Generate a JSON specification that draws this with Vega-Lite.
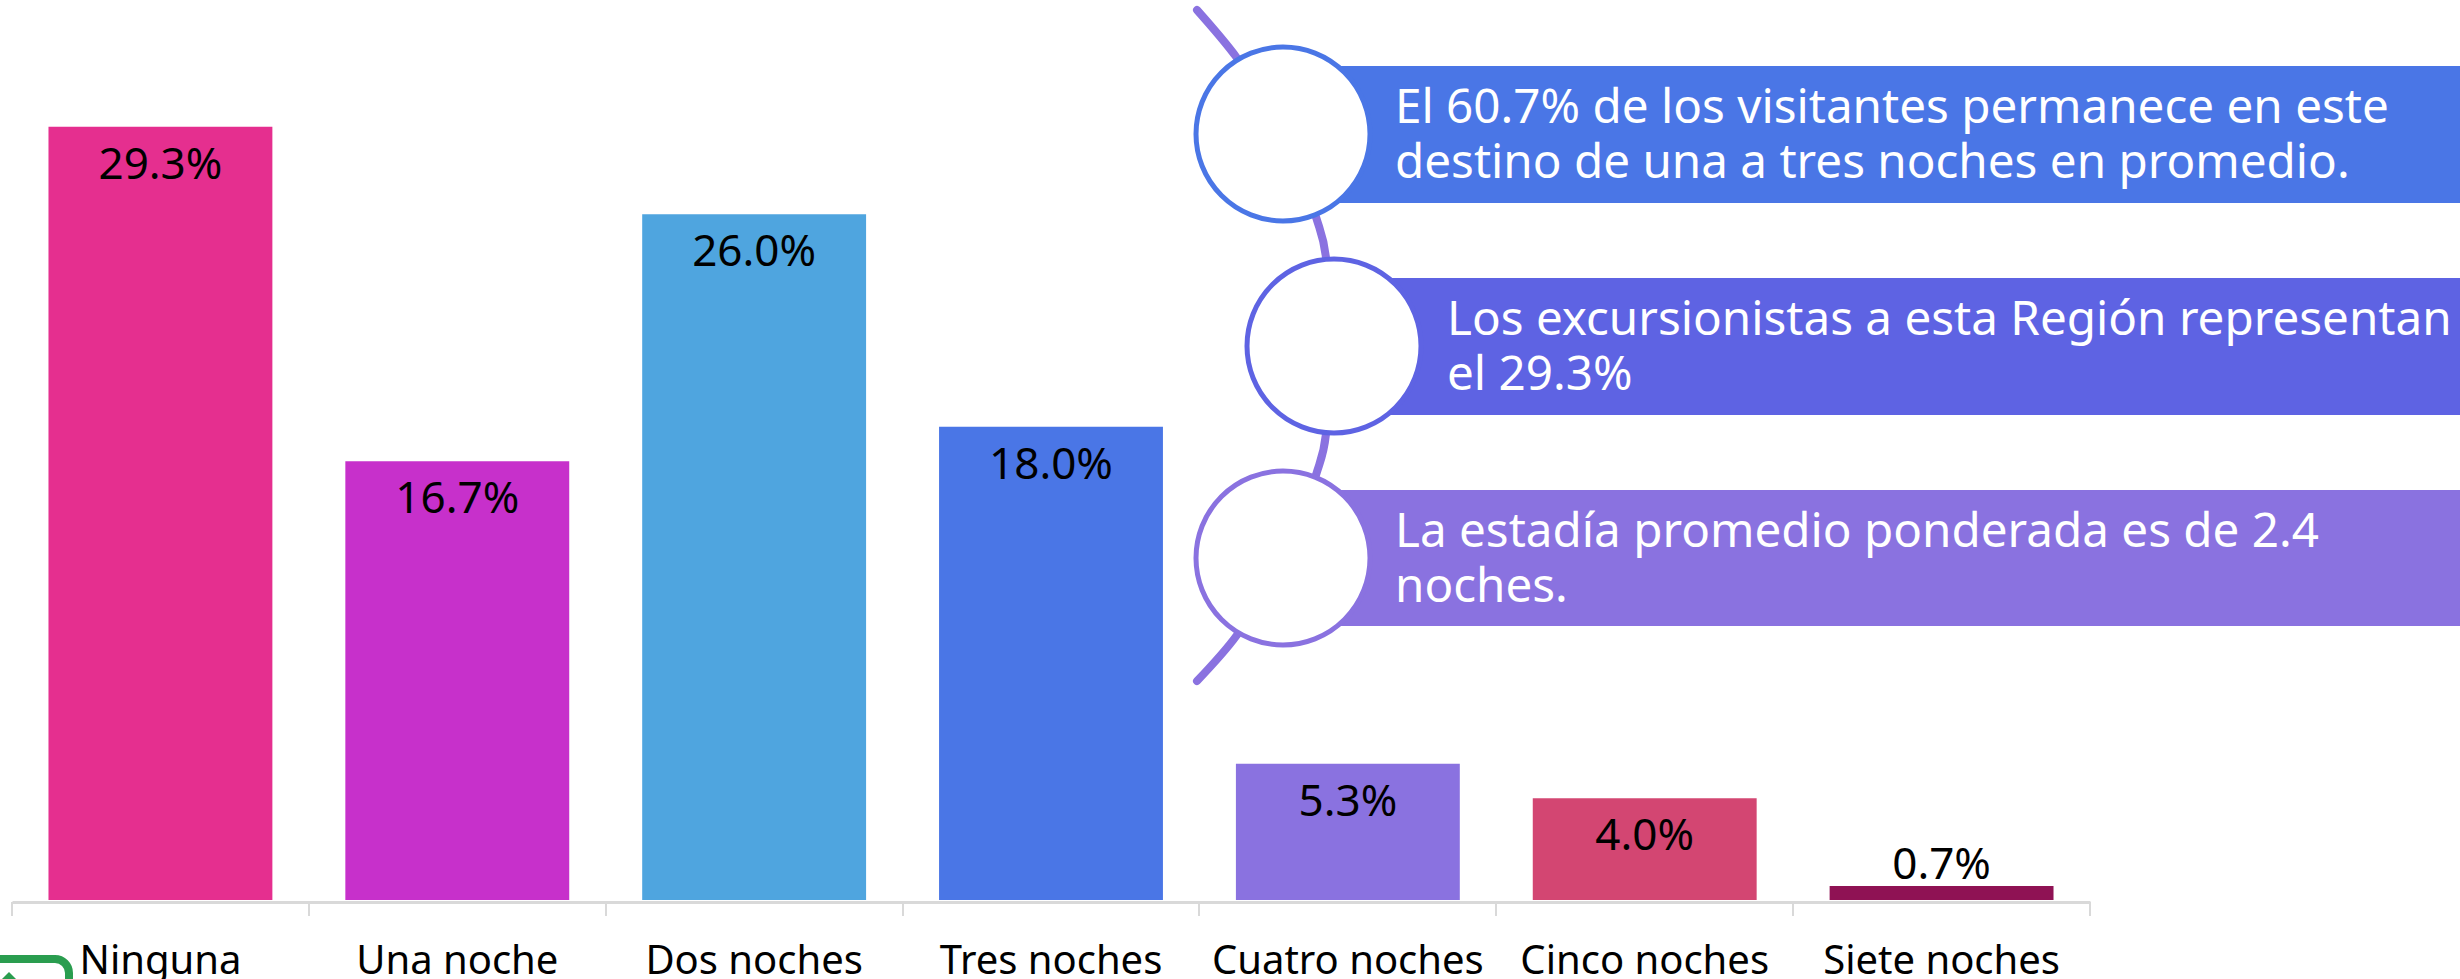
{
"$schema":"https://vega.github.io/schema/vega-lite/v6.json",
"width":2078,"height":900,
"autosize":{"type":"none"},
"padding":{"left":12,"top":0,"right":370,"bottom":79},
"background":"white",
"config":{"view":{"stroke":null},"text":{"font":"Noto Sans"}},
"datasets":{
"bars":[
{"noches":"Ninguna","pct":29.3,"label":"29.3%","color":"#E52F8F"},
{"noches":"Una noche","pct":16.7,"label":"16.7%","color":"#C730CB"},
{"noches":"Dos noches","pct":26.0,"label":"26.0%","color":"#4FA5DF"},
{"noches":"Tres noches","pct":18.0,"label":"18.0%","color":"#4A76E6"},
{"noches":"Cuatro noches","pct":5.3,"label":"5.3%","color":"#8A72E0"},
{"noches":"Cinco noches","pct":4.0,"label":"4.0%","color":"#D34672"},
{"noches":"Siete noches","pct":0.7,"label":"0.7%","color":"#8F1254"}
],
"ticks":[
{"a":12,"b":902,"b2":916},{"a":309,"b":902,"b2":916},{"a":606,"b":902,"b2":916},{"a":903,"b":902,"b2":916},{"a":1199,"b":902,"b2":916},{"a":1496,"b":902,"b2":916},{"a":1793,"b":902,"b2":916},{"a":2090,"b":902,"b2":916}
],
"arc":[
{"a":1197,"b":10},{"a":1237,"b":58},{"a":1270,"b":110},{"a":1300,"b":170},{"a":1316,"b":217},{"a":1326,"b":258},{"a":1330,"b":346},{"a":1326,"b":434},{"a":1316,"b":475},{"a":1300,"b":522},{"a":1270,"b":580},{"a":1237,"b":635},{"a":1197,"b":681}
],
"panels":[
{"a":1282,"a2":2460,"b":66,"b2":203,"ca":1283,"cb":134,"color":"#4A76E6"},
{"a":1334,"a2":2460,"b":278,"b2":415,"ca":1334,"cb":346,"color":"#5E63E3"},
{"a":1282,"a2":2460,"b":490,"b2":626,"ca":1283,"cb":558,"color":"#8A72E0"}
],
"lines":[
{"a":1395,"b":123,"t":"El 60.7% de los visitantes permanece en este"},
{"a":1395,"b":178,"t":"destino de una a tres noches en promedio."},
{"a":1447,"b":335,"t":"Los excursionistas a esta Región representan"},
{"a":1447,"b":390,"t":"el 29.3%"},
{"a":1395,"b":547,"t":"La estadía promedio ponderada es de 2.4"},
{"a":1395,"b":602,"t":"noches."}
],
"icon":[{"a":-30,"a2":69,"b":959,"b2":1040,"ta":9,"tb":987}]
},
"resolve":{"scale":{"x":"independent","y":"independent"},"axis":{"x":"independent","y":"independent"}},
"layer":[
{
"data":{"name":"bars"},
"encoding":{
"x":{"field":"noches","type":"nominal","sort":null,"scale":{"paddingInner":0.2458,"paddingOuter":0.1229},
"axis":{"title":null,"labelAngle":0,"labelFontSize":40,"labelFont":"Noto Sans","labelColor":"#000000","labelPadding":39,"labelLimit":400,"labelOverlap":false,"labelFlush":false,"domainColor":"#D9D9D9","domainWidth":3,"ticks":false,"offset":2,"grid":false}},
"y":{"field":"pct","type":"quantitative","scale":{"domain":[0.17,34.07],"nice":false,"zero":false},"axis":null}
},
"layer":[
{"mark":{"type":"bar","clip":true},"encoding":{"color":{"field":"color","type":"nominal","scale":null}}},
{"transform":[{"filter":"datum.pct > 1"}],"mark":{"type":"text","baseline":"middle","dy":39,"fontSize":44,"color":"#000000"},"encoding":{"text":{"field":"label"}}},
{"transform":[{"filter":"datum.pct <= 1"}],"mark":{"type":"text","baseline":"middle","dy":-20,"fontSize":44,"color":"#000000"},"encoding":{"text":{"field":"label"}}}
]
},
{
"encoding":{
"x":{"field":"a","type":"quantitative","scale":{"domain":[12,2090],"nice":false,"zero":false},"axis":null},
"y":{"field":"b","type":"quantitative","scale":{"domain":[900,0],"nice":false,"zero":false},"axis":null}
},
"layer":[
{"data":{"name":"ticks"},"mark":{"type":"rule","color":"#D9D9D9","strokeWidth":2,"clip":false},"encoding":{"y2":{"field":"b2"}}},
{"data":{"name":"arc"},"mark":{"type":"line","color":"#8A72E0","strokeWidth":8,"strokeCap":"round","interpolate":"cardinal","clip":false},"encoding":{"order":{"field":"b","type":"quantitative"}}},
{"data":{"name":"panels"},"mark":{"type":"rect","clip":false},"encoding":{"x2":{"field":"a2"},"y2":{"field":"b2"},"color":{"field":"color","type":"nominal","scale":null}}},
{"data":{"name":"panels"},"mark":{"type":"point","filled":false,"shape":"circle","fill":"white","fillOpacity":1,"strokeWidth":5,"size":30276,"opacity":1},"encoding":{"x":{"field":"ca","type":"quantitative"},"y":{"field":"cb","type":"quantitative"},"stroke":{"field":"color","type":"nominal","scale":null}}},
{"data":{"name":"lines"},"mark":{"type":"text","align":"left","baseline":"alphabetic","fontSize":47.6,"color":"#FFFFFF"},"encoding":{"text":{"field":"t"},"y":{"field":"b","type":"quantitative"}}},
{"data":{"name":"icon"},"mark":{"type":"rect","fill":null,"stroke":"#2A9D4F","strokeWidth":8,"cornerRadius":14,"clip":false},"encoding":{"x2":{"field":"a2"},"y2":{"field":"b2"}}},
{"data":{"name":"icon"},"mark":{"type":"point","shape":"diamond","filled":true,"color":"#2A9D4F","size":900,"opacity":1},"encoding":{"x":{"field":"ta","type":"quantitative"},"y":{"field":"tb","type":"quantitative"}}}
]
}
]
}
